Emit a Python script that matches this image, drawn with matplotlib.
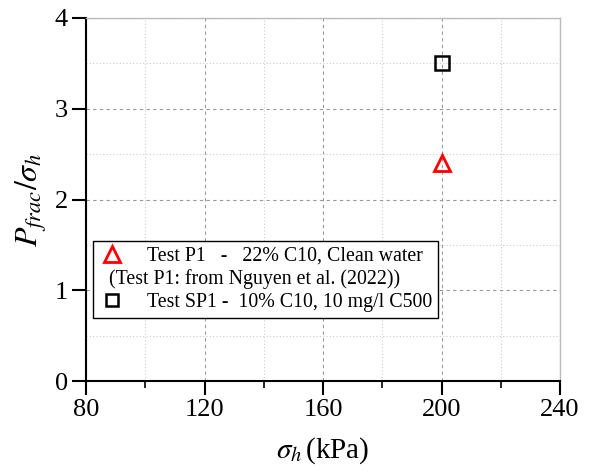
import matplotlib
matplotlib.use("Agg")
import matplotlib.pyplot as plt
from matplotlib.lines import Line2D
from matplotlib.ticker import MultipleLocator

# ---- DATA -------------------------------------------------------------------
sigma_p1 = [200]
ratio_p1 = [2.4]
sigma_sp1 = [200]
ratio_sp1 = [3.5]

label_p1 = "Test P1   -   22% C10, Clean water"
label_note = "(Test P1: from Nguyen et al. (2022))"
label_sp1 = "Test SP1 -  10% C10, 10 mg/l C500"

plt.rcParams["font.family"] = ["Liberation Serif", "DejaVu Serif"]
plt.rcParams["mathtext.fontset"] = "stix"

W, H = 592, 472
fig = plt.figure(figsize=(W / 100, H / 100), dpi=100)
ax = fig.add_axes([86 / W, 1 - 381 / H, 474 / W, 363 / H])

ax.plot(sigma_p1, ratio_p1, linestyle="none", marker="^", markersize=11,
        markerfacecolor="none", markeredgecolor="red", markeredgewidth=2, zorder=5)
ax.plot(sigma_sp1, ratio_sp1, linestyle="none", marker="s", markersize=9.5,
        markerfacecolor="none", markeredgecolor="black", markeredgewidth=1.8, zorder=5)

ax.set_xlim(80, 240)
ax.set_ylim(0, 4)
ax.xaxis.set_major_locator(MultipleLocator(40))
ax.xaxis.set_minor_locator(MultipleLocator(20))
ax.yaxis.set_major_locator(MultipleLocator(1))
ax.yaxis.set_minor_locator(MultipleLocator(0.5))

ax.grid(which="major", color="#999999", linestyle=(0, (3, 3)), linewidth=0.8)
ax.grid(which="minor", color="#cccccc", linestyle=(0, (1, 2)), linewidth=0.8)
ax.set_axisbelow(True)

for side in ("left", "bottom"):
    ax.spines[side].set_linewidth(1.5)
for side in ("top", "right"):
    ax.spines[side].set_color("#bbbbbb")
    ax.spines[side].set_linewidth(1.0)

ax.tick_params(which="major", direction="out", length=10, width=1.5, labelsize=19, pad=3)
ax.tick_params(axis="x", which="minor", direction="out", length=5, width=1.2)
ax.tick_params(axis="y", which="minor", length=0)

ax.set_xlabel(r"$\sigma_h\,$(kPa)", fontsize=21, labelpad=10)
ax.set_ylabel(r"$P_{frac}/\sigma_h$", fontsize=23, labelpad=4)

handles = [
    Line2D([], [], linestyle="none", marker="^", markersize=11,
           markerfacecolor="none", markeredgecolor="red", markeredgewidth=2),
    Line2D([], [], linestyle="none", marker="none"),
    Line2D([], [], linestyle="none", marker="s", markersize=9,
           markerfacecolor="none", markeredgecolor="black", markeredgewidth=1.8),
]
# the middle entry is a note with no marker; its text is drawn separately
leg = ax.legend(handles, [label_p1, " ", label_sp1], loc="lower left",
                bbox_to_anchor=(0.015, 0.174), fontsize=14.3, frameon=True,
                fancybox=False, edgecolor="black", framealpha=1,
                handlelength=1.3, handletextpad=1.1, borderpad=0.3,
                labelspacing=0.2, borderaxespad=0)
leg.get_frame().set_linewidth(1.0)

fig.canvas.draw()
frame_box = leg.get_frame().get_window_extent()
mid_box = leg.get_texts()[1].get_window_extent()
fig.text((frame_box.x0 + 16) / W, (mid_box.y0 + mid_box.y1) / 2 / H, label_note,
         fontsize=14.3, va="center", ha="left", zorder=10)

fig.savefig("out.png", dpi=100)
